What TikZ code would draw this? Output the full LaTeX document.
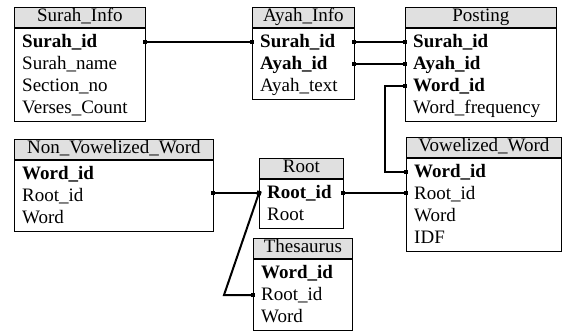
\documentclass[tikz,border=0pt]{standalone}
\usepackage{fontspec}
\setmainfont{Liberation Serif}
\usetikzlibrary{positioning,arrows.meta}
\definecolor{hdrgray}{RGB}{224,224,224}
\tikzset{
	tabhead/.style={draw, line width=0.8pt, fill=hdrgray, anchor=north west, minimum height=20pt, inner sep=0pt, text height=13pt, text depth=4pt},
	tabbody/.style={draw, line width=0.8pt, fill=white, inner sep=0pt},
	fieldrow/.style={anchor=west, minimum height=22pt, inner xsep=8pt, inner ysep=0pt, text height=14pt, text depth=3pt, align=left},
	link/.style={line width=2pt, shorten <=-2pt, shorten >=-2pt, {Square[length=4pt,width=4.5pt]}-{Square[length=4pt,width=4.5pt]}}
}
\begin{document}
\begin{tikzpicture}[x=1pt, y=-1pt, font=\fontsize{19}{22}\selectfont]
		\useasboundingbox (0,0) rectangle (562,330);
		
		% Surah_Info table
		\node[tabhead, minimum width=131] (si) at (14,7) {Surah\_Info};
		\node[tabbody, minimum width=131, minimum height=93, below=0pt of si] (si-body) {};
		\foreach \fld/\txt [count=\i from 0] in {sid/\textbf{Surah\_id}, sname/Surah\_name, sec/Section\_no, vc/Verses\_Count} {
			\node[fieldrow, text width=115pt] (si-\fld) at (14,{42+22*\i}) {\txt};
		}
		
		% Ayah_Info table
		\node[tabhead, minimum width=102] (ai) at (252,7) {Ayah\_Info};
		\node[tabbody, minimum width=102, minimum height=71, below=0pt of ai] (ai-body) {};
		\foreach \fld/\txt [count=\i from 0] in {sid/\textbf{Surah\_id}, aid/\textbf{Ayah\_id}, atext/Ayah\_text} {
			\node[fieldrow, text width=86pt] (ai-\fld) at (252,{42+22*\i}) {\txt};
		}
		
		% Posting table
		\node[tabhead, minimum width=151] (po) at (405,7) {Posting};
		\node[tabbody, minimum width=151, minimum height=93, below=0pt of po] (po-body) {};
		\foreach \fld/\txt [count=\i from 0] in {sid/\textbf{Surah\_id}, aid/\textbf{Ayah\_id}, wid/\textbf{Word\_id}, freq/Word\_frequency} {
			\node[fieldrow, text width=135pt] (po-\fld) at (405,{42+22*\i}) {\txt};
		}
		
		% Non_Vowelized_Word table
		\node[tabhead, minimum width=199] (nvw) at (14,139) {Non\_Vowelized\_Word};
		\node[tabbody, minimum width=199, minimum height=71, below=0pt of nvw] (nvw-body) {};
		\foreach \fld/\txt [count=\i from 0] in {wid/\textbf{Word\_id}, rid/Root\_id, word/Word} {
			\node[fieldrow, text width=183pt] (nvw-\fld) at (14,{174+22*\i}) {\txt};
		}
		
		% Root table
		\node[tabhead, minimum width=84] (rt) at (259,158) {Root};
		\node[tabbody, minimum width=84, minimum height=49, below=0pt of rt] (rt-body) {};
		\foreach \fld/\txt [count=\i from 0] in {rid/\textbf{Root\_id}, root/Root} {
			\node[fieldrow, text width=68pt] (rt-\fld) at (259,{193+22*\i}) {\txt};
		}
		
		% Thesaurus table
		\node[tabhead, minimum width=99] (th) at (253,238) {Thesaurus};
		\node[tabbody, minimum width=99, minimum height=71, below=0pt of th] (th-body) {};
		\foreach \fld/\txt [count=\i from 0] in {wid/\textbf{Word\_id}, rid/Root\_id, word/Word} {
			\node[fieldrow, text width=83pt] (th-\fld) at (253,{273+22*\i}) {\txt};
		}
		
		% Vowelized_Word table
		\node[tabhead, minimum width=155] (vw) at (406,137) {Vowelized\_Word};
		\node[tabbody, minimum width=155, minimum height=93, below=0pt of vw] (vw-body) {};
		\foreach \fld/\txt [count=\i from 0] in {wid/\textbf{Word\_id}, rid/Root\_id, word/Word, idf/IDF} {
			\node[fieldrow, text width=139pt] (vw-\fld) at (406,{172+22*\i}) {\txt};
		}
		
		% relations between the tables
		\draw[link] (si-sid.east) -- (ai-sid.west);
		\draw[link] (ai-sid.east) -- (po-sid.west);
		\draw[link] (ai-aid.east) -- (po-aid.west);
		\draw[link] (po-wid.west) -- ++(-20,0) |- (vw-wid.west);
		\draw[link] (rt-rid.west -| nvw-rid.east) -- (rt-rid.west);
		\draw[link] (rt-rid.west) -- ([xshift=-29pt]th-rid.west) -- (th-rid.west);
		\draw[link] (rt-rid.east) -- (rt-rid.east -| vw-rid.west);
\end{tikzpicture}
\end{document}
